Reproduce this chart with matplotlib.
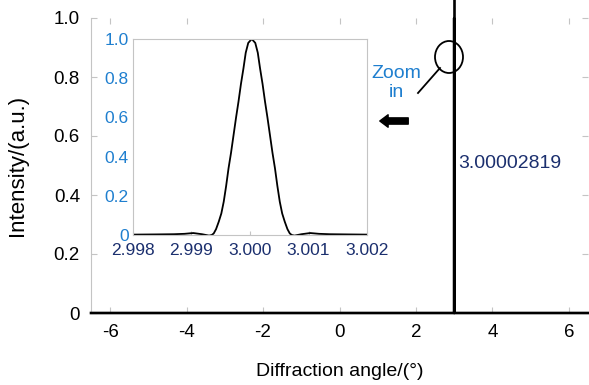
import matplotlib
matplotlib.use('Agg')
from matplotlib import pyplot as plt
from matplotlib.patches import Ellipse

plt.rcParams['font.family'] = ['Liberation Sans', 'DejaVu Sans']

# main trace: flat baseline with a single narrow peak at the diffraction angle
main_angle = [-6.5, 2.99934, 3.00003, 3.00072, 6.5]
main_intensity = [0.0, 0.0, 1.0, 0.0, 0.0]
peak_angle = 3.00002819
peak_label = '3.00002819'

main_xticks = [-6, -4, -2, 0, 2, 4, 6]
main_xlabels = ['-6', '-4', '-2', '0', '2', '4', '6']
main_yticks = [0, 0.2, 0.4, 0.6, 0.8, 1.0]
main_ylabels = ['0', '0.2', '0.4', '0.6', '0.8', '1.0']

# zoomed-in peak
zoom_angle = [2.99800, 2.99840, 2.99870, 2.99888, 2.99903, 2.99918, 2.99930,
              2.999346, 2.99938, 2.99942, 2.999466, 2.99951, 2.999551, 2.999592,
              2.999633, 2.999676, 2.999719, 2.999762, 2.999803, 2.999845, 2.999888,
              2.999927, 2.99997, 3.00003, 3.00009, 3.000133, 3.000172, 3.000215,
              3.000257, 3.000298, 3.000341, 3.000384, 3.000427, 3.000468, 3.000509,
              3.00055, 3.000594, 3.00064, 3.00068, 3.000714, 3.00076, 3.00088,
              3.00103, 3.00118, 3.00136, 3.00166, 3.00200]
zoom_intensity = [0.002, 0.003, 0.004, 0.006, 0.010, 0.004, -0.003,
                  0.0, 0.008, 0.030, 0.068, 0.11, 0.17, 0.25,
                  0.34, 0.42, 0.51, 0.60, 0.68, 0.77, 0.85,
                  0.93, 0.98, 1.0, 0.98, 0.93, 0.85, 0.77,
                  0.68, 0.60, 0.51, 0.42, 0.34, 0.25, 0.17,
                  0.11, 0.068, 0.030, 0.008, 0.0, -0.003, 0.004,
                  0.010, 0.006, 0.004, 0.003, 0.002]

zoom_xticks = [2.998, 2.999, 3.000, 3.001, 3.002]
zoom_xlabels = ['2.998', '2.999', '3.000', '3.001', '3.002']
zoom_yticks = [0, 0.2, 0.4, 0.6, 0.8, 1.0]
zoom_ylabels = ['0', '0.2', '0.4', '0.6', '0.8', '1.0']

grey = '#c4c4c4'
blue = '#1f7fcf'
navy = '#1b2f6e'

W, H = 589, 385
fig = plt.figure(figsize=(W / 100, H / 100), dpi=100)

# main axes
ax = fig.add_axes([91 / W, 1 - 313 / H, 497 / W, 295 / H])
ax.plot(main_angle, main_intensity, color='k', lw=1.9, clip_on=False, zorder=3)
# the marker line carries on above the frame
ax.axvline(peak_angle, ymin=1.0, ymax=1.065, color='k', lw=1.9, clip_on=False, zorder=3)
ax.set_xlim(-6.5, 6.5)
ax.set_ylim(0, 1.0)
ax.set_xticks(main_xticks)
ax.set_xticklabels(main_xlabels)
ax.set_yticks(main_yticks)
ax.set_yticklabels(main_ylabels)
for s in ['top', 'right']:
    ax.spines[s].set_visible(False)
ax.spines['left'].set_color(grey)
ax.spines['bottom'].set_color(grey)
ax.tick_params(direction='in', length=4, color=grey, labelsize=13.5,
               top=True, right=True, pad=8)
ax.set_xlabel('Diffraction angle/(°)', fontsize=14)
ax.set_ylabel('Intensity/(a.u.)', fontsize=16)
ax.xaxis.set_label_coords(0.5, -0.2)
ax.yaxis.set_label_coords(-0.148, 0.5)
ax.xaxis.label.set_va('center')
ax.yaxis.label.set_va('center')

# inset with the zoomed peak
ins = fig.add_axes([133 / W, 1 - 235 / H, 234 / W, 196 / H])
ins.plot(zoom_angle, zoom_intensity, color='k', lw=1.3)
ins.set_xlim(2.998, 3.002)
ins.set_ylim(0, 1.0)
ins.set_xticks(zoom_xticks)
ins.set_xticklabels(zoom_xlabels)
ins.set_yticks(zoom_yticks)
ins.set_yticklabels(zoom_ylabels)
for s in ins.spines.values():
    s.set_color(grey)
ins.tick_params(direction='in', length=3, color=grey, labelsize=12.5, pad=3)
ins.tick_params(axis='y', labelcolor=blue, length=0)
ins.tick_params(axis='x', labelcolor=navy, pad=6)

# overlay for annotations, in pixel units
ov = fig.add_axes([0, 0, 1, 1], zorder=5)
ov.set_xlim(0, W)
ov.set_ylim(H, 0)
ov.axis('off')
ov.patch.set_alpha(0)
ov.add_patch(Ellipse((449, 57), 28, 32, fill=False, ec='k', lw=1.3))
ov.plot([440, 418], [68, 93], color='k', lw=1.3)
ov.text(396, 83, 'Zoom\nin', color=blue, fontsize=14, ha='center', va='center',
        linespacing=1.1)
ov.annotate('', xy=(377, 121), xytext=(411, 121),
            arrowprops=dict(arrowstyle='simple,head_length=0.6,head_width=0.9,tail_width=0.45',
                            color='k', mutation_scale=10))
ov.text(458, 164, peak_label, color=navy, fontsize=14, ha='left', va='center')

fig.savefig('out.png', dpi=100)
